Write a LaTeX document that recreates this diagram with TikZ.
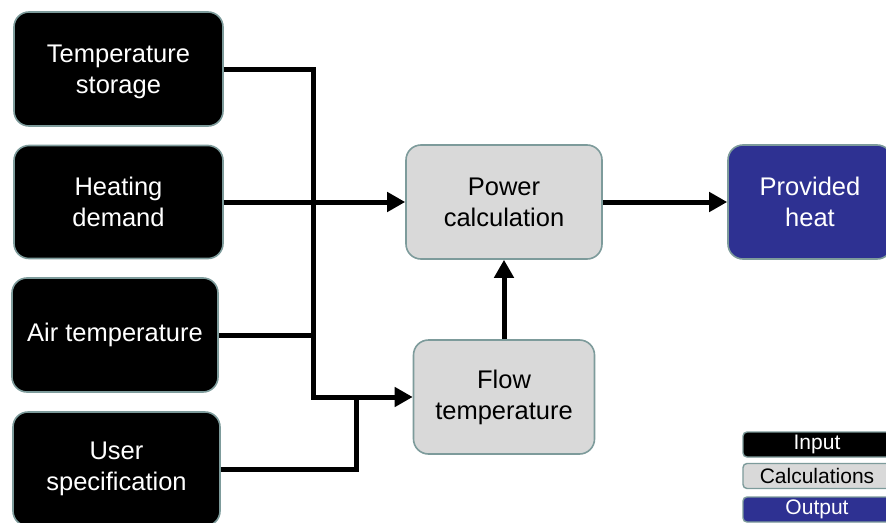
\documentclass[tikz,border=0pt]{standalone}
\usepackage{fontspec}
\setmainfont{Liberation Sans}
\usetikzlibrary{arrows.meta}
\definecolor{bordc}{RGB}{125,155,155}
\definecolor{calcgrey}{RGB}{217,217,217}
\definecolor{outblue}{RGB}{46,49,146}
\tikzset{
  box/.style={draw=bordc, line width=1.6pt, rounded corners=15pt, align=center,
    font=\fontsize{25.5}{31}\selectfont, inner sep=0pt},
  inbox/.style={box, fill=black, text=white},
  calcbox/.style={box, fill=calcgrey, text=black},
  outbox/.style={box, fill=outblue, text=white},
  legbox/.style={draw=bordc, line width=1.4pt, rounded corners=4pt, align=center,
    font=\fontsize{21}{24}\selectfont, inner sep=0pt, minimum width=148pt, minimum height=25pt},
  wire/.style={line width=5pt, line join=miter, draw=black},
  arrowline/.style={wire, -{Triangle[length=18pt,width=19pt]}}
}
\begin{document}
\begin{tikzpicture}[x=1pt,y=-1pt]
\useasboundingbox[fill=white] (0,0) rectangle (886,522);
% input nodes
\node[inbox, minimum width=209pt, minimum height=114pt] (ts) at (118.5,69) {};
\node[text=white, font=\fontsize{25.5}{31}\selectfont, align=center] (tstext) at (118.5,72) {Temperature\\storage};
\node[inbox, minimum width=209pt, minimum height=113pt] (hd) at (118.5,202) {Heating\\demand};
\node[inbox, minimum width=206pt, minimum height=114pt] (at) at (115,335) {Air temperature};
\node[inbox, minimum width=207pt, minimum height=114pt] (us) at (116.5,469) {User\\specification};
% calculation nodes
\node[calcbox, minimum width=196pt, minimum height=114pt] (pc) at (504,202) {Power\\calculation};
\node[calcbox, minimum width=181pt, minimum height=114pt] (ft) at (504,397) {Flow\\temperature};
% output node
\node[outbox, minimum width=164pt, minimum height=114pt] (ph) at (810,202) {Provided\\heat};
% legend
\node[legbox, fill=black, text=white] (lin) at (817,444.5) {Input};
\node[legbox, fill=calcgrey, text=black] (lcalc) at (817,476) {Calculations};
\node[legbox, fill=outblue, text=white] (lout) at (817,509.5) {Output};
% junction coordinates
\coordinate (bus) at (313,69);
\coordinate (uj) at (356,397);
% connectors
\draw[arrowline] (ts.east) -- (bus) |- (ft.west);
\draw[wire] (at.east) -- (at.east -| bus);
\draw[wire] (us.east) -| (uj);
\draw[arrowline] (hd.east) -- (pc.west);
\draw[arrowline] (ft.north) -- (pc.south);
\draw[arrowline] (pc.east) -- (ph.west);
\end{tikzpicture}
\end{document}
